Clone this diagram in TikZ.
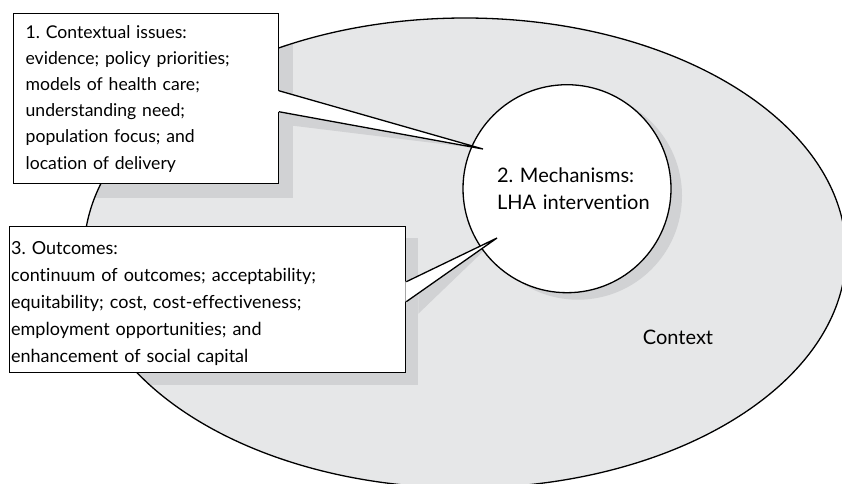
\documentclass[tikz,border=0pt]{standalone}
\usepackage{fontspec}
\setmainfont{Lato}[Ligatures=NoCommon]
\usepackage{tikz}
\usetikzlibrary{positioning,calc,backgrounds}
\definecolor{ctxgrey}{HTML}{E6E7E8}
\definecolor{shadegrey}{HTML}{D1D2D4}
\tikzset{
  txt/.style={font=\fontsize{17.6}{26.2}\selectfont},
  box/.style={txt,draw,line width=1.3pt,fill=white,rectangle,align=left,anchor=north west,inner ysep=0pt},
  mechcircle/.style={font=\fontsize{20}{26.7}\selectfont,draw,line width=1.3pt,fill=white,circle,align=left,text width=140pt,minimum size=208pt,inner sep=0pt},
  wedge/.style={line width=1.3pt,line join=miter},
  shade/.style={fill=shadegrey}
}
\frenchspacing

\begin{document}
\begin{tikzpicture}[x=1pt,y=-1pt]
\useasboundingbox (0,0) rectangle (842,483);
\coordinate (E) at (465,253);
\coordinate (t1) at (483,149);
\coordinate (t3) at (497,238);
\node[box,minimum width=264.5pt,minimum height=170pt,text width=240.5pt,inner xsep=12pt] (issues) at (13,13)
  {1. Contextual issues:\\evidence; policy priorities;\\models of health care;\\understanding need;\\population focus; and\\location of delivery};
\node[box,minimum width=396pt,minimum height=146pt,text width=393pt,inner xsep=1.5pt,font=\fontsize{18}{27}\selectfont] (outcomes) at (9,225.7)
  {\rule{0pt}{21pt}3. Outcomes:\\continuum of outcomes; acceptability;\\equitability; cost, cost-effectiveness;\\employment opportunities; and\\enhancement of social capital};
\node[mechcircle] (mech) at (567,188.7) {2. Mechanisms:\\\mbox{LHA intervention}};
\node[font=\fontsize{20}{24}\selectfont] (ctx) at (678,337) {Context};
\coordinate (w1a) at ($(issues.north east)+(0,77.7)$);
\coordinate (w1b) at ($(issues.north east)+(0,98.7)$);
\coordinate (w3a) at ($(outcomes.north east)+(0,56)$);
\coordinate (w3b) at ($(outcomes.north east)+(0,76)$);
\fill[white] ($(w1a)+(-1,0)$) -- (t1) -- ($(w1b)+(-1,0)$) -- cycle;
\draw[wedge] (w1a) -- (t1) -- (w1b);
\fill[white] ($(w3a)+(-1,0)$) -- (t3) -- ($(w3b)+(-1,0)$) -- cycle;
\draw[wedge] (w3a) -- (t3) -- (w3b);
\begin{pgfonlayer}{background}
\fill[ctxgrey] (E) ellipse[x radius=381,y radius=235];
\begin{scope}
\clip (E) ellipse[x radius=381,y radius=235];
\fill[shade] ($(issues.north west)+(14,14)$) rectangle ($(issues.south east)+(14,14)$);
\fill[shade] ($(w1a)+(14,14)$) -- (t1) -- ($(w1b)+(14,14)$) -- cycle;
\fill[shade] ($(outcomes.north west)+(12,12)$) rectangle ($(outcomes.south east)+(12,12)$);
\fill[shade] ($(w3a)+(12,12)$) -- (t3) -- ($(w3b)+(12,12)$) -- cycle;
\fill[shade] ($(mech.center)+(11,7)$) circle[radius=104];
\end{scope}
\draw[line width=1.3pt] (E) ellipse[x radius=381,y radius=235];
\end{pgfonlayer}
\end{tikzpicture}
\end{document}
